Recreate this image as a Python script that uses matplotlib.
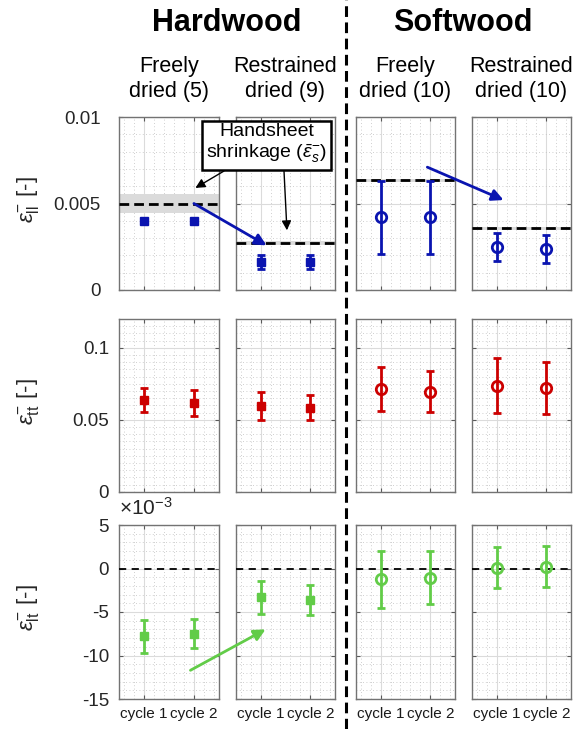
import matplotlib
matplotlib.use('Agg')
import matplotlib.pyplot as plt
from matplotlib.patches import ConnectionPatch
from matplotlib.lines import Line2D
from matplotlib.ticker import MultipleLocator, FuncFormatter, FixedLocator

plt.rcParams['font.family'] = ['Liberation Sans', 'DejaVu Sans']
plt.rcParams['mathtext.fontset'] = 'custom'
plt.rcParams['mathtext.rm'] = 'Liberation Sans'
plt.rcParams['mathtext.it'] = 'Liberation Sans:italic'
plt.rcParams['mathtext.bf'] = 'Liberation Sans:bold'
plt.rcParams['axes.unicode_minus'] = False

# ---------------- data ----------------
cycles = ['cycle 1', 'cycle 2']
wood_types = ['Hardwood', 'Softwood']
groups = ['Freely\ndried (5)', 'Restrained\ndried (9)',
          'Freely\ndried (10)', 'Restrained\ndried (10)']

# longitudinal strain eps_ll
ll_mean = [[0.0040, 0.0040], [0.0016, 0.0016], [0.0042, 0.0042], [0.00247, 0.00238]]
ll_err = [[0.0001, 0.0001], [0.0004, 0.0004], [0.0021, 0.0021], [0.0008, 0.0008]]
# handsheet shrinkage (mean, spread)
hs_mean = [0.0050, 0.00273, 0.00634, 0.00356]
hs_err = [0.00055, 0.0001, 0.0001, 0.0001]

# transverse strain eps_tt
tt_mean = [[0.0636, 0.0617], [0.0594, 0.0585], [0.0715, 0.0695], [0.0737, 0.0720]]
tt_err = [[0.0082, 0.0090], [0.0098, 0.0089], [0.0154, 0.0142], [0.0192, 0.0180]]

# shear strain eps_lt
lt_mean = [[-7.80e-3, -7.49e-3], [-3.30e-3, -3.62e-3], [-1.23e-3, -1.05e-3], [0.10e-3, 0.21e-3]]
lt_err = [[1.88e-3, 1.69e-3], [1.90e-3, 1.69e-3], [3.28e-3, 3.06e-3], [2.37e-3, 2.37e-3]]

# ---------------- style ----------------
BLUE = '#0a14b0'
RED = '#cc0000'
GREEN = '#62cc48'
W, H = 582, 729

fig = plt.figure(figsize=(W / 100, H / 100), dpi=100)

col_left = [119.3, 235.7, 355.7, 471.7]
col_w = 99.5
rows_px = [(117, 290), (319, 491.7), (525, 699)]
ypads = [13.5, 7.5, 7.5]

row_data = [(ll_mean, ll_err, BLUE, (0, 0.01), [0, 0.005, 0.01], 0.001),
            (tt_mean, tt_err, RED, (0, 0.12), [0, 0.05, 0.1], 0.005),
            (lt_mean, lt_err, GREEN, (-15e-3, 5e-3), [-15e-3, -10e-3, -5e-3, 0, 5e-3], 1e-3)]

ylabels = [r'$\epsilon^{-}_{\mathrm{ll}}$ [-]', r'$\epsilon^{-}_{\mathrm{tt}}$ [-]',
           r'$\epsilon^{-}_{\mathrm{lt}}$ [-]']

xpos = [1, 2]
axes = [[None] * 4 for _ in range(3)]

for r, (means, errs, col, ylim, yt, ymin) in enumerate(row_data):
    top, bot = rows_px[r]
    for c in range(4):
        ax = fig.add_axes([col_left[c] / W, 1 - bot / H, col_w / W, (bot - top) / H])
        axes[r][c] = ax
        ax.set_axisbelow(True)
        ax.set_xlim(0.5, 2.5)
        ax.set_ylim(*ylim)
        ax.xaxis.set_major_locator(FixedLocator(xpos))
        ax.xaxis.set_minor_locator(MultipleLocator(0.2))
        ax.yaxis.set_major_locator(FixedLocator(yt))
        ax.yaxis.set_minor_locator(MultipleLocator(ymin))
        ax.grid(True, which='major', color='0.86', lw=0.8, ls='-')
        ax.grid(True, which='minor', color='0.75', lw=0.6, ls=(0, (1, 3)))
        ax.tick_params(which='major', direction='in', length=3, top=True, right=True,
                       color='0.35', labelsize=13.5, labelcolor='0.15')
        ax.tick_params(axis='y', pad=ypads[r])
        ax.tick_params(which='minor', length=0)
        for s in ax.spines.values():
            s.set_color('0.45')
            s.set_linewidth(1.0)
        if r == 2:
            ax.set_xticklabels(cycles, fontsize=11, color='0.1')
            ax.tick_params(axis='x', pad=6)
        else:
            ax.set_xticklabels([])
        if c == 0:
            if r == 2:
                ax.yaxis.set_major_formatter(FuncFormatter(lambda v, p: '%g' % round(v * 1e3, 6)))
            else:
                ax.yaxis.set_major_formatter(FuncFormatter(lambda v, p: '%g' % v))
        else:
            ax.set_yticklabels([])

        if c < 2:
            ax.errorbar(xpos, means[c], yerr=errs[c], fmt='s', color=col, lw=2,
                        capsize=3.2, capthick=2, ms=6, mfc=col, mec=col, zorder=4)
        else:
            ax.errorbar(xpos, means[c], yerr=errs[c], fmt='o', color=col, lw=2,
                        capsize=3.2, capthick=2, ms=7.5, mfc='none', mec=col, mew=2, zorder=4)

        if r == 0:
            ax.axhspan(hs_mean[c] - hs_err[c], hs_mean[c] + hs_err[c], color='0.86',
                       lw=0, zorder=1.5)
            ax.axhline(hs_mean[c], color='k', lw=2, dashes=(3.5, 1.8), zorder=3)
        if r == 2:
            ax.axhline(0, color='k', lw=1.3, dashes=(4, 3), zorder=3)

# y labels
for r in range(3):
    top, bot = rows_px[r]
    fig.text(28 / W, 1 - ((top + bot) / 2 - 4) / H, ylabels[r], rotation=90,
             ha='center', va='center', fontsize=16, color='0.15')

fig.text(119 / W, 1 - 508 / H, r'$\times10^{-3}$', ha='left', va='center',
         fontsize=15, color='0.15')

# titles
fig.text(227 / W, 1 - 23 / H, wood_types[0], ha='center', va='center',
         fontsize=22, fontweight='bold')
fig.text(463 / W, 1 - 23 / H, wood_types[1], ha='center', va='center',
         fontsize=22, fontweight='bold')
for c in range(4):
    fig.text((col_left[c] + col_w / 2) / W, 1 - 79 / H, groups[c], ha='center',
             va='center', fontsize=15.5, linespacing=1.25)

# separator
fig.add_artist(Line2D([345.5 / W] * 2, [0, 1], transform=fig.transFigure,
                      color='k', lw=2.2, dashes=(3.5, 1.8)))


def arrow(axA, pA, axB, pB, color, lw=2, ms=17):
    cp = ConnectionPatch(xyA=pA, coordsA=axA.transData, xyB=pB, coordsB=axB.transData,
                         arrowstyle='-|>', color=color, lw=lw, mutation_scale=ms,
                         shrinkA=0, shrinkB=0, zorder=10)
    fig.add_artist(cp)


arrow(axes[0][0], (2.0, 0.0050), axes[0][1], (1.12, 0.00258), BLUE)
arrow(axes[0][2], (1.94, 0.0071), axes[0][3], (1.14, 0.0052), BLUE)
arrow(axes[2][0], (1.93, -11.7e-3), axes[2][1], (1.10, -7.0e-3), GREEN)

# annotation box
fig.text(266.5 / W, 1 - 144 / H, 'Handsheet\nshrinkage ($\\bar{\\epsilon}_s^{-}$)',
         ha='center', va='center', fontsize=14, linespacing=1.2, zorder=12,
         bbox=dict(boxstyle='square,pad=0.22', fc='white', ec='k', lw=1.8))

for (sx, sy), axT, tip in [((224, 171), axes[0][0], (2.03, 0.0059)),
                           ((284, 171), axes[0][1], (1.53, 0.00345))]:
    cp = ConnectionPatch(xyA=(sx / W, 1 - sy / H), coordsA='figure fraction',
                         xyB=tip, coordsB=axT.transData, arrowstyle='-|>',
                         color='k', lw=1.0, mutation_scale=14, shrinkA=0, shrinkB=0,
                         zorder=11)
    fig.add_artist(cp)

fig.savefig('out.png', dpi=100)
